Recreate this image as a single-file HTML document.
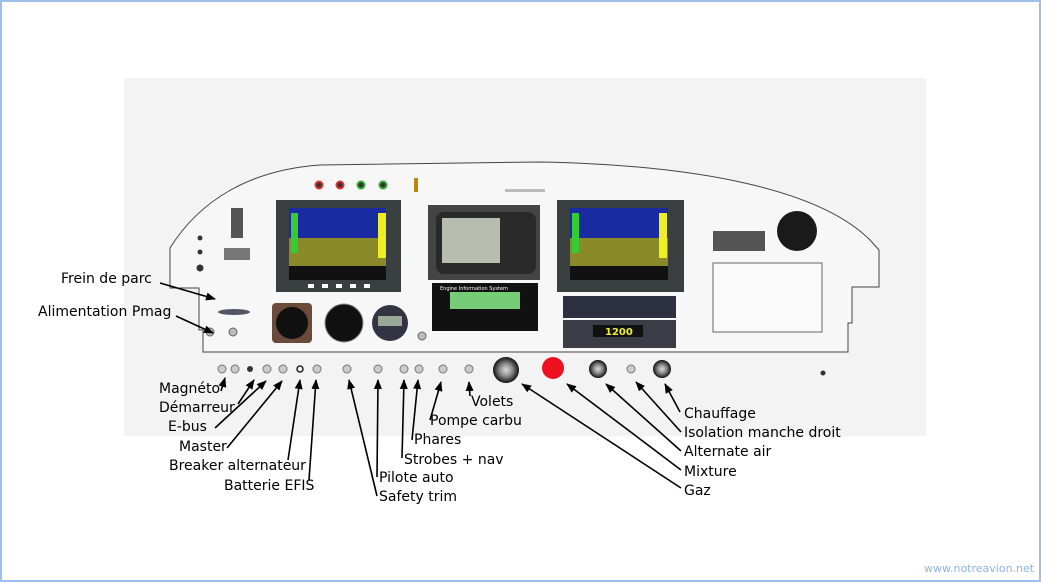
<!DOCTYPE html>
<html><head><meta charset="utf-8"><style>
html,body{margin:0;padding:0;background:#fff}
svg{display:block}
text{font-family:"DejaVu Sans","Liberation Sans",sans-serif;font-size:14px;fill:#000}
</style></head><body>
<svg width="1041" height="582" viewBox="0 0 1041 582" xmlns="http://www.w3.org/2000/svg">
<defs>
<marker id="a" markerWidth="10" markerHeight="10" refX="9" refY="5" orient="auto" markerUnits="userSpaceOnUse">
<path d="M0,1 L10,5 L0,9 Z" fill="#000"/></marker>
<radialGradient id="knob"><stop offset="0" stop-color="#ddd"/><stop offset="0.5" stop-color="#888"/><stop offset="1" stop-color="#111"/></radialGradient>
</defs>
<rect x="1" y="1" width="1039" height="580" fill="#fff" stroke="#9cc0ea" stroke-width="2"/>
<rect x="124" y="78" width="802" height="358" fill="#f3f3f3"/>
<!-- panel outline -->
<path d="M203,352 L203,330 L199,330 L199,288 L170,288 L170,248 C200,200 250,170 320,165 L540,162 C700,165 820,190 870,240 L879,250 L879,287 L852,287 L852,323 L848,323 L848,352 Z" fill="#f7f7f7" stroke="#444" stroke-width="1"/>
<!-- indicator lights -->
<g stroke-width="2" fill="#333"><circle cx="319" cy="185" r="3.5" stroke="#d33"/><circle cx="340" cy="185" r="3.5" stroke="#d33"/><circle cx="361" cy="185" r="3.5" stroke="#3a3"/><circle cx="383" cy="185" r="3.5" stroke="#3a3"/></g>
<rect x="414" y="178" width="4" height="14" fill="#b80"/>
<rect x="505" y="189" width="40" height="3" fill="#bbb"/>
<rect x="231" y="208" width="12" height="30" fill="#555"/>
<rect x="224" y="248" width="26" height="12" fill="#777"/>
<circle cx="200" cy="238" r="2.5" fill="#333"/><circle cx="200" cy="252" r="2.5" fill="#333"/><circle cx="200" cy="268" r="3.5" fill="#333"/>
<ellipse cx="234" cy="312" rx="16" ry="3" fill="#556"/>
<!-- left EFIS -->
<rect x="276" y="200" width="125" height="92" fill="#3a3f3f"/>
<rect x="289" y="208" width="97" height="30" fill="#1a2aa0"/>
<rect x="289" y="238" width="97" height="28" fill="#8a8a2a"/>
<rect x="289" y="266" width="97" height="14" fill="#111"/>
<rect x="291" y="213" width="7" height="40" fill="#3c3"/><rect x="378" y="213" width="8" height="45" fill="#ee2"/>
<g fill="#fff"><rect x="308" y="284" width="6" height="4"/><rect x="322" y="284" width="6" height="4"/><rect x="336" y="284" width="6" height="4"/><rect x="350" y="284" width="6" height="4"/><rect x="364" y="284" width="6" height="4"/></g>
<!-- GPS -->
<rect x="428" y="205" width="112" height="75" fill="#444"/>
<rect x="436" y="212" width="100" height="62" rx="8" fill="#2a2a2a"/>
<rect x="442" y="218" width="58" height="45" fill="#b8bdb0"/>
<!-- EIS -->
<rect x="432" y="283" width="106" height="48" fill="#111"/>
<rect x="450" y="292" width="70" height="17" fill="#7c7"/>
<text x="440" y="290" style="font-size:5px;fill:#fff">Engine Information System</text>
<!-- gauges -->
<rect x="272" y="303" width="40" height="40" rx="4" fill="#6a4a3a"/><circle cx="292" cy="323" r="16" fill="#111"/>
<circle cx="344" cy="323" r="19" fill="#111" stroke="#888"/>
<circle cx="390" cy="323" r="18" fill="#334"/><rect x="378" y="316" width="24" height="10" fill="#9a9"/>
<circle cx="210" cy="332" r="4" fill="#bbb" stroke="#666"/><circle cx="233" cy="332" r="4" fill="#bbb" stroke="#666"/><circle cx="422" cy="336" r="4" fill="#bbb" stroke="#666"/>
<!-- right EFIS -->
<rect x="557" y="200" width="127" height="92" fill="#3a3f3f"/>
<rect x="570" y="208" width="98" height="30" fill="#1a2aa0"/>
<rect x="570" y="238" width="98" height="28" fill="#8a8a2a"/>
<rect x="570" y="266" width="98" height="14" fill="#111"/>
<rect x="572" y="213" width="7" height="40" fill="#3c3"/><rect x="659" y="213" width="8" height="45" fill="#ee2"/>
<!-- radios -->
<rect x="563" y="296" width="113" height="22" fill="#2c3040"/>
<rect x="563" y="320" width="113" height="28" fill="#3a3d45"/>
<rect x="593" y="325" width="50" height="12" fill="#111"/>
<text x="605" y="335" style="font-size:10px;fill:#ee3;font-weight:bold">1200</text>
<rect x="713" y="231" width="52" height="20" fill="#555"/>
<circle cx="797" cy="231" r="20" fill="#1a1a1a"/>
<rect x="713" y="263" width="109" height="69" fill="#fafafa" stroke="#666"/>
<!-- lower switches -->
<g fill="#ccc" stroke="#777">
<circle cx="222" cy="369" r="4"/><circle cx="235" cy="369" r="4"/><circle cx="267" cy="369" r="4"/><circle cx="283" cy="369" r="4"/><circle cx="317" cy="369" r="4"/><circle cx="347" cy="369" r="4"/><circle cx="378" cy="369" r="4"/><circle cx="404" cy="369" r="4"/><circle cx="419" cy="369" r="4"/><circle cx="443" cy="369" r="4"/><circle cx="469" cy="369" r="4"/><circle cx="631" cy="369" r="4"/></g>
<circle cx="250" cy="369" r="3" fill="#333"/><circle cx="300" cy="369" r="3" fill="none" stroke="#222" stroke-width="1.5"/>
<circle cx="506" cy="370" r="13" fill="url(#knob)"/>
<circle cx="553" cy="368" r="11" fill="#e12"/>
<circle cx="598" cy="369" r="9" fill="url(#knob)"/>
<circle cx="662" cy="369" r="9" fill="url(#knob)"/>
<circle cx="823" cy="373" r="2.5" fill="#333"/>
<!-- arrows -->
<g stroke="#000" stroke-width="1.6" fill="none" marker-end="url(#a)">
<line x1="160" y1="283" x2="215" y2="299"/>
<line x1="176" y1="316" x2="213" y2="333"/>
<line x1="221" y1="391" x2="225" y2="378"/>
<line x1="238" y1="404" x2="254" y2="380"/>
<line x1="215" y1="428" x2="266" y2="381"/>
<line x1="227" y1="448" x2="282" y2="381"/>
<line x1="288" y1="460" x2="300" y2="380"/>
<line x1="309" y1="480" x2="316" y2="380"/>
<line x1="377" y1="496" x2="349" y2="380"/>
<line x1="377" y1="477" x2="378" y2="380"/>
<line x1="402" y1="458" x2="404" y2="380"/>
<line x1="412" y1="440" x2="418" y2="380"/>
<line x1="430" y1="420" x2="441" y2="382"/>
<line x1="470" y1="396" x2="469" y2="382"/>
<line x1="681" y1="488" x2="522" y2="384"/>
<line x1="681" y1="470" x2="567" y2="384"/>
<line x1="681" y1="451" x2="606" y2="384"/>
<line x1="681" y1="432" x2="636" y2="382"/>
<line x1="680" y1="412" x2="665" y2="384"/>
</g>
<text x="61" y="283">Frein de parc</text>
<text x="38" y="316">Alimentation Pmag</text>
<text x="159" y="393">Magnéto</text>
<text x="159" y="412">Démarreur</text>
<text x="168" y="431">E-bus</text>
<text x="179" y="451">Master</text>
<text x="169" y="470">Breaker alternateur</text>
<text x="224" y="490">Batterie EFIS</text>
<text x="379" y="482">Pilote auto</text>
<text x="379" y="501">Safety trim</text>
<text x="404" y="464">Strobes + nav</text>
<text x="414" y="444">Phares</text>
<text x="430" y="425">Pompe carbu</text>
<text x="471" y="406">Volets</text>
<text x="684" y="418">Chauffage</text>
<text x="684" y="437">Isolation manche droit</text>
<text x="684" y="456">Alternate air</text>
<text x="684" y="476">Mixture</text>
<text x="684" y="495">Gaz</text>
<text x="924" y="572" style="font-size:11px;fill:#8ab4e0">www.notreavion.net</text>
</svg>
</body></html>
